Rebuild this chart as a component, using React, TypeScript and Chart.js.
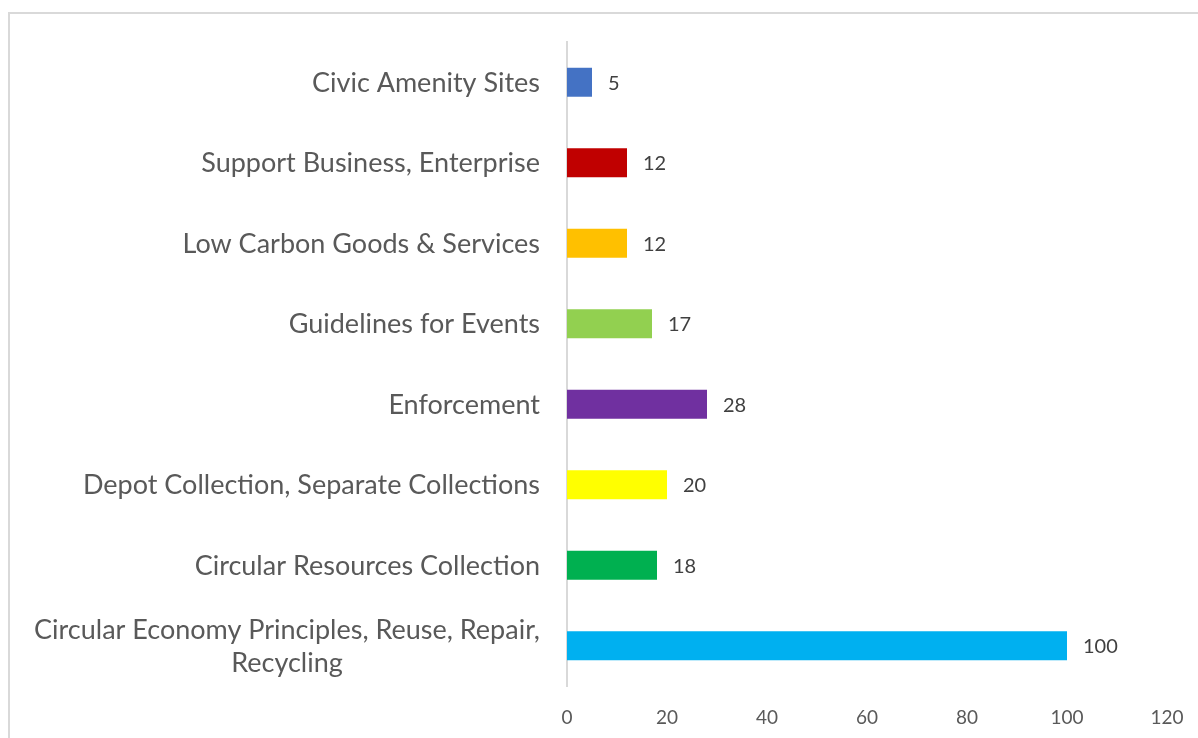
import React, { useEffect, useRef } from "react";
import { Chart, registerables } from "chart.js";

Chart.register(...registerables);

const categories: (string | string[])[] = [
  "Civic Amenity Sites",
  "Support Business, Enterprise",
  "Low Carbon Goods & Services",
  "Guidelines for Events",
  "Enforcement",
  "Depot Collection, Separate Collections",
  "Circular Resources Collection",
  ["Circular Economy Principles, Reuse, Repair,", "Recycling"],
];
const values = [5, 12, 12, 17, 28, 20, 18, 100];
const barColors = [
  "#4472C4",
  "#C00000",
  "#FFC000",
  "#92D050",
  "#7030A0",
  "#FFFF00",
  "#00B050",
  "#00B0F0",
];
const xMin = 0;
const xMax = 120;
const xStep = 20;

const FONT = "Lato, 'Open Sans', sans-serif";

const dataLabelPlugin = {
  id: "dataLabels",
  afterDatasetsDraw(chart: any) {
    const ctx = chart.ctx;
    const meta = chart.getDatasetMeta(0);
    ctx.save();
    ctx.font = `20px ${FONT}`;
    ctx.fillStyle = "#404040";
    ctx.textAlign = "left";
    ctx.textBaseline = "middle";
    meta.data.forEach((bar: any, i: number) => {
      ctx.fillText(String(values[i]), bar.x + 16, bar.y + 1);
    });
    ctx.restore();
  },
};

// Category labels: right-aligned block, lines of a multi-line label centred within the block
const categoryLabelPlugin = {
  id: "categoryLabels",
  afterDraw(chart: any) {
    const ctx = chart.ctx;
    const yScale = chart.scales.y;
    const rightEdge = chart.chartArea.left - 27;
    const lineH = 33;
    ctx.save();
    ctx.font = `27px ${FONT}`;
    ctx.fillStyle = "#595959";
    ctx.textBaseline = "middle";
    categories.forEach((lab, i) => {
      const lines = Array.isArray(lab) ? lab : [lab];
      const yc = yScale.getPixelForTick(i);
      const maxW = Math.max(...lines.map((l) => ctx.measureText(l).width));
      const cx = rightEdge - maxW / 2;
      ctx.textAlign = "center";
      lines.forEach((l, j) => {
        const y = yc + (j - (lines.length - 1) / 2) * lineH;
        ctx.fillText(l, cx, y + 1);
      });
    });
    ctx.restore();
  },
};

export default function App() {
  const ref = useRef<HTMLCanvasElement | null>(null);
  useEffect(() => {
    if (!ref.current) return;
    const chart = new Chart(ref.current, {
      type: "bar",
      data: {
        labels: categories,
        datasets: [
          {
            data: values,
            backgroundColor: barColors,
            categoryPercentage: 1,
            barPercentage: 0.36,
          },
        ],
      },
      options: {
        indexAxis: "y",
        animation: false,
        responsive: false,
        maintainAspectRatio: false,
        layout: { padding: { left: 0, right: 31, top: 42, bottom: 0 } },
        plugins: { legend: { display: false }, tooltip: { enabled: false } },
        scales: {
          x: {
            min: xMin,
            max: xMax,
            ticks: {
              stepSize: xStep,
              font: { family: FONT, size: 19 },
              color: "#595959",
              padding: 20,
            },
            grid: { display: false, drawTicks: false },
            border: { display: false },
            afterFit(scale: any) {
              scale.height = 52;
              scale.paddingLeft = 0;
              scale.paddingRight = 0;
            },
          },
          y: {
            ticks: { display: false },
            grid: { display: false, drawTicks: false },
            border: { display: true, color: "#d9d9d9", width: 2 },
            afterFit(scale: any) {
              scale.width = 567;
              scale.paddingTop = 0;
              scale.paddingBottom = 0;
            },
          },
        },
      },
      plugins: [dataLabelPlugin, categoryLabelPlugin],
    });
    return () => chart.destroy();
  }, []);

  return (
    <div>
      <div
        style={{
          position: "absolute",
          left: 8,
          top: 12,
          width: 1200,
          height: 740,
          border: "2px solid #d9d9d9",
          boxSizing: "border-box",
          background: "#fff",
        }}
      />
      <canvas
        ref={ref}
        width={1198}
        height={738}
        style={{ position: "absolute", left: 0, top: 0, width: 1198, height: 738 }}
      />
    </div>
  );
}
